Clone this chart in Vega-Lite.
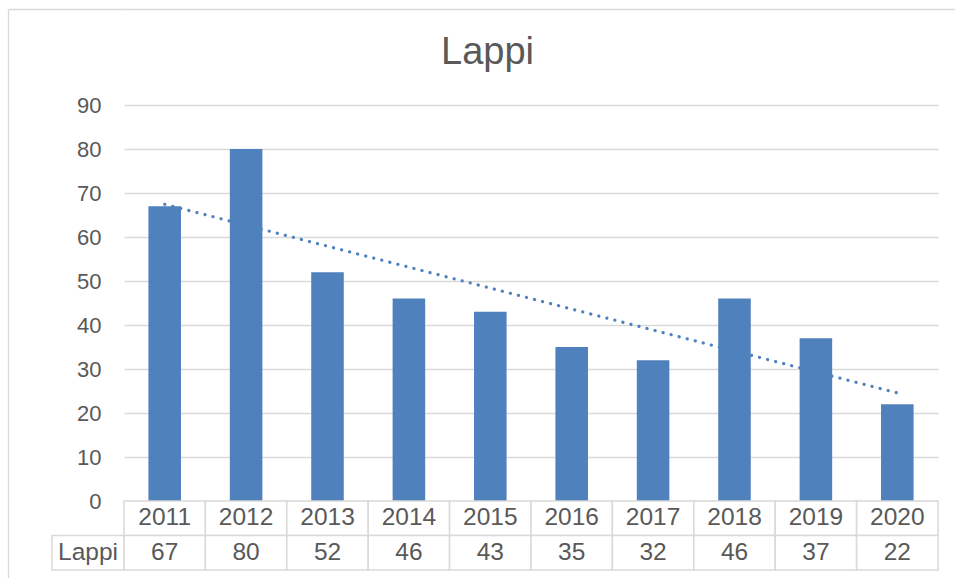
{
  "$schema": "https://vega.github.io/schema/vega-lite/v6.json",
  "padding": {"left": 7, "top": 8, "right": 0, "bottom": 0},
  "background": "white",
  "config": {"view": {"stroke": null}, "font": "Liberation Sans"},
  "datasets": {
    "d": [
      {"year": 2011, "value": 67},
      {"year": 2012, "value": 80},
      {"year": 2013, "value": 52},
      {"year": 2014, "value": 46},
      {"year": 2015, "value": 43},
      {"year": 2016, "value": 35},
      {"year": 2017, "value": 32},
      {"year": 2018, "value": 46},
      {"year": 2019, "value": 37},
      {"year": 2020, "value": 22}
    ],
    "hdr": [{"series": "Lappi"}],
    "one": [{"k": 0}]
  },
  "spacing": 0,
  "bounds": "flush",
  "vconcat": [
    {
      "width": 831,
      "height": 96,
      "data": {"name": "one"},
      "layer": [
        {
          "mark": {"type": "point", "opacity": 0, "size": 0},
          "encoding": {
            "x": {"datum": 0.5, "type": "quantitative", "scale": {"domain": [0, 1]}, "axis": {"orient": "top", "domain": true, "domainColor": "#d9d9d9", "domainWidth": 1.3, "labels": false, "ticks": false, "grid": false, "title": null}},
            "y": {"datum": 0.5, "type": "quantitative", "scale": {"domain": [0, 1]}, "axis": {"orient": "left", "offset": 116, "domain": true, "domainColor": "#d9d9d9", "domainWidth": 1.3, "labels": false, "ticks": true, "values": [1], "tickSize": -116, "tickColor": "#d9d9d9", "tickWidth": 1.3, "grid": false, "title": null}}
          }
        },
        {
          "mark": {"type": "text", "text": "Lappi", "fontSize": 38, "color": "#595959", "baseline": "alphabetic", "dy": 7, "dx": -52}
        }
      ]
    },
    {
      "width": 814,
      "height": 396,
      "data": {"name": "d"},
      "resolve": {"axis": {"y": "independent"}},
      "layer": [
        {
          "mark": {"type": "bar", "color": "#4f81bd"},
          "encoding": {
            "x": {"field": "year", "type": "ordinal", "scale": {"paddingInner": 0.6, "paddingOuter": 0.3}, "axis": null},
            "y": {"field": "value", "type": "quantitative", "scale": {"domain": [0, 90]}, "axis": {"values": [0, 10, 20, 30, 40, 50, 60, 70, 80, 90], "title": null, "domain": false, "ticks": false, "grid": true, "gridColor": "#d9d9d9", "gridWidth": 1.3, "labelFontSize": 22, "labelColor": "#595959", "labelPadding": 23}}
          }
        },
        {
          "transform": [{"regression": "value", "on": "year"}],
          "mark": {"type": "line", "color": "#4f81bd", "strokeWidth": 3.2, "strokeCap": "round", "strokeDash": [0.1, 8.2]},
          "encoding": {
            "x": {"field": "year", "type": "ordinal"},
            "y": {"field": "value", "type": "quantitative", "axis": null}
          }
        },
        {
          "data": {"name": "one"},
          "mark": {"type": "point", "opacity": 0, "size": 0},
          "encoding": {
            "y": {"datum": 45, "type": "quantitative", "axis": {"orient": "left", "offset": 116, "domain": true, "domainColor": "#d9d9d9", "domainWidth": 1.3, "labels": false, "ticks": false, "grid": false, "title": null}}
          }
        }
      ]
    },
    {
      "width": 814,
      "height": 69,
      "data": {"name": "d"},
      "resolve": {"scale": {"x": "independent"}, "axis": {"y": "independent"}},
      "layer": [
        {
          "mark": {"type": "rect", "fill": "white", "stroke": "#d9d9d9", "strokeWidth": 1.5},
          "encoding": {
            "x": {"field": "year", "type": "ordinal", "scale": {"paddingInner": 0, "paddingOuter": 0}, "axis": null},
            "y": {"datum": "yr", "type": "nominal", "scale": {"domain": ["yr", "Lappi"], "paddingInner": 0, "paddingOuter": 0}, "axis": null}
          }
        },
        {
          "mark": {"type": "rect", "fill": "white", "stroke": "#d9d9d9", "strokeWidth": 1.5},
          "encoding": {
            "x": {"field": "year", "type": "ordinal", "scale": {"paddingInner": 0, "paddingOuter": 0}, "axis": null},
            "y": {"datum": "Lappi", "type": "nominal", "axis": null}
          }
        },
        {
          "data": {"name": "hdr"},
          "mark": {"type": "rect", "fill": "white", "stroke": "#d9d9d9", "strokeWidth": 1.5},
          "encoding": {
            "x": {"field": "series", "type": "nominal", "scale": {"domain": ["Lappi"], "range": [-72, 0], "paddingInner": 0, "paddingOuter": 0}, "axis": null},
            "y": {"field": "series", "type": "nominal", "axis": null}
          }
        },
        {
          "data": {"name": "hdr"},
          "mark": {"type": "text", "fontSize": 24.5, "color": "#595959"},
          "encoding": {
            "x": {"field": "series", "type": "nominal", "scale": {"domain": ["Lappi"], "range": [-72, 0], "paddingInner": 0, "paddingOuter": 0}, "axis": null},
            "y": {"field": "series", "type": "nominal", "axis": null},
            "text": {"field": "series", "type": "nominal"}
          }
        },
        {
          "mark": {"type": "text", "fontSize": 24.5, "color": "#595959"},
          "encoding": {
            "x": {"field": "year", "type": "ordinal", "scale": {"paddingInner": 0, "paddingOuter": 0}, "axis": null},
            "y": {"datum": "yr", "type": "nominal", "axis": null},
            "text": {"field": "year", "type": "nominal"}
          }
        },
        {
          "mark": {"type": "text", "fontSize": 24.5, "color": "#595959"},
          "encoding": {
            "x": {"field": "year", "type": "ordinal", "scale": {"paddingInner": 0, "paddingOuter": 0}, "axis": null},
            "y": {"datum": "Lappi", "type": "nominal", "axis": null},
            "text": {"field": "value", "type": "quantitative"}
          }
        },
        {
          "data": {"name": "one"},
          "mark": {"type": "point", "opacity": 0, "size": 0},
          "encoding": {
            "y": {"datum": "yr", "type": "nominal", "axis": {"orient": "left", "offset": 116, "domain": true, "domainColor": "#d9d9d9", "domainWidth": 1.3, "labels": false, "ticks": false, "grid": false, "title": null}}
          }
        }
      ]
    },
    {
      "width": 814,
      "height": 9,
      "data": {"name": "one"},
      "mark": {"type": "point", "opacity": 0, "size": 0},
      "encoding": {
        "y": {"datum": 0.5, "type": "quantitative", "scale": {"domain": [0, 1]}, "axis": {"orient": "left", "offset": 116, "domain": true, "domainColor": "#d9d9d9", "domainWidth": 1.3, "labels": false, "ticks": false, "grid": false, "title": null}}
      }
    }
  ]
}
